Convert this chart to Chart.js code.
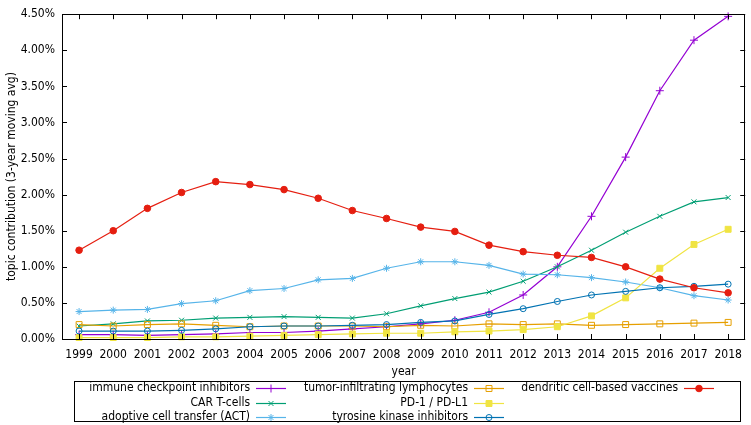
<!DOCTYPE html>
<html>
<head>
<meta charset="utf-8">
<title>Topic contribution</title>
<script src="https://cdn.jsdelivr.net/npm/chart.js@4.4.0/dist/chart.umd.min.js"></script>
<style>
  html, body { margin: 0; padding: 0; background: #fff; }
  #wrap { width: 751px; height: 425px; }
</style>
</head>
<body>
<div id="wrap"><canvas id="chart" width="751" height="425"></canvas></div>
<script>
// Data (percent, 3-year moving average)
const years = ['1999', '2000', '2001', '2002', '2003', '2004', '2005', '2006', '2007', '2008',
  '2009', '2010', '2011', '2012', '2013', '2014', '2015', '2016', '2017', '2018'];

const immuneCheckpoint = [0.06, 0.06, 0.05, 0.06, 0.07, 0.09, 0.09, 0.11, 0.14, 0.17, 0.21, 0.26, 0.37, 0.61, 1.00, 1.70, 2.52, 3.44, 4.14, 4.47];
const carTCells = [0.18, 0.21, 0.25, 0.26, 0.29, 0.30, 0.31, 0.30, 0.29, 0.35, 0.46, 0.56, 0.65, 0.80, 1.00, 1.23, 1.48, 1.70, 1.90, 1.96];
const adoptiveTransfer = [0.38, 0.40, 0.41, 0.49, 0.53, 0.67, 0.70, 0.82, 0.84, 0.98, 1.07, 1.07, 1.02, 0.90, 0.89, 0.85, 0.79, 0.71, 0.60, 0.54];
const tumorInfiltrating = [0.20, 0.18, 0.20, 0.21, 0.19, 0.17, 0.18, 0.18, 0.18, 0.17, 0.19, 0.18, 0.21, 0.20, 0.21, 0.19, 0.20, 0.21, 0.22, 0.23];
const pd1 = [0.02, 0.02, 0.02, 0.03, 0.03, 0.04, 0.05, 0.06, 0.07, 0.08, 0.08, 0.10, 0.11, 0.13, 0.17, 0.32, 0.57, 0.98, 1.31, 1.52];
const tyrosineKinase = [0.11, 0.11, 0.11, 0.12, 0.14, 0.17, 0.18, 0.18, 0.19, 0.20, 0.23, 0.25, 0.34, 0.42, 0.52, 0.61, 0.66, 0.71, 0.73, 0.76];
const dendriticVaccines = [1.23, 1.50, 1.81, 2.03, 2.18, 2.14, 2.07, 1.95, 1.78, 1.67, 1.55, 1.49, 1.30, 1.21, 1.16, 1.13, 1.00, 0.83, 0.71, 0.64];

const seriesNames = [
  'immune checkpoint inhibitors',
  'CAR T-cells',
  'adoptive cell transfer (ACT)',
  'tumor-infiltrating lymphocytes',
  'PD-1 / PD-L1',
  'tyrosine kinase inhibitors',
  'dendritic cell-based vaccines'
];
const seriesValues = [immuneCheckpoint, carTCells, adoptiveTransfer, tumorInfiltrating, pd1, tyrosineKinase, dendriticVaccines];

// gnuplot-like styling
const colors = ['#9400d3', '#009e73', '#56b4e9', '#e69f00', '#f0e442', '#0072b2', '#e51e10'];
const markers = [
  { style: 'cross', radius: 4, fill: false },
  { style: 'crossRot', radius: 3.5, fill: false },
  { style: 'star', radius: 3.5, fill: false },
  { style: 'rect', radius: 4.2, fill: false },
  { style: 'rect', radius: 4.2, fill: true },
  { style: 'circle', radius: 3, fill: false },
  { style: 'circle', radius: 3.3, fill: true }
];

const FONT = { family: "'DejaVu Sans Condensed', 'DejaVu Sans'", size: 12 };
const TICK_LEN = 5;

const datasets = seriesNames.map((name, i) => ({
  label: name,
  data: seriesValues[i],
  borderColor: colors[i],
  backgroundColor: markers[i].fill ? colors[i] : 'rgba(0,0,0,0)',
  pointBorderColor: colors[i],
  pointBackgroundColor: markers[i].fill ? colors[i] : 'rgba(0,0,0,0)',
  pointStyle: markers[i].style,
  pointRadius: markers[i].radius,
  pointBorderWidth: 1,
  borderWidth: 1.2,
  tension: 0,
  fill: false,
  clip: false,
  order: seriesNames.length - i   // later series on top, like gnuplot
}));

// Frame with inward ticks on all four sides
const framePlugin = {
  id: 'frame',
  afterDatasetsDraw(chart) {
    const { ctx, chartArea: a, scales } = chart;
    ctx.save();
    ctx.strokeStyle = '#000';
    ctx.lineWidth = 1;
    ctx.beginPath();
    scales.x.ticks.forEach((t, i) => {
      const px = Math.round(scales.x.getPixelForTick(i)) + 0.5;
      ctx.moveTo(px, a.bottom); ctx.lineTo(px, a.bottom - TICK_LEN);
      ctx.moveTo(px, a.top); ctx.lineTo(px, a.top + TICK_LEN);
    });
    scales.y.ticks.forEach((t, i) => {
      const py = Math.round(scales.y.getPixelForTick(i)) + 0.5;
      ctx.moveTo(a.left, py); ctx.lineTo(a.left + TICK_LEN, py);
      ctx.moveTo(a.right, py); ctx.lineTo(a.right - TICK_LEN, py);
    });
    ctx.stroke();
    ctx.strokeRect(Math.round(a.left) + 0.5, Math.round(a.top) + 0.5,
      Math.round(a.right - a.left) - 1, Math.round(a.bottom - a.top));
    ctx.restore();
  }
};

// Boxed three-column legend below the axis, gnuplot style
const legendCols = [250, 468, 678];   // right edge of text in each column
const legendRows = [388, 403, 417];
const SAMPLE_GAP = 6;
const SAMPLE_LEN = 30;

const boxLegendPlugin = {
  id: 'boxLegend',
  afterDraw(chart) {
    const ctx = chart.ctx;
    ctx.save();
    ctx.strokeStyle = '#000';
    ctx.lineWidth = 1;
    ctx.strokeRect(74.5, 381.5, 666, 40);

    ctx.font = FONT.size + 'px ' + FONT.family;
    ctx.textAlign = 'right';
    ctx.textBaseline = 'middle';
    chart.data.datasets.forEach((ds, i) => {
      const tx = legendCols[Math.floor(i / 3)];
      const ty = legendRows[i % 3];
      ctx.fillStyle = '#000';
      ctx.fillText(ds.label, tx, ty);

      const x1 = tx + SAMPLE_GAP;
      const x2 = x1 + SAMPLE_LEN;
      ctx.strokeStyle = ds.borderColor;
      ctx.lineWidth = ds.borderWidth;
      ctx.beginPath();
      ctx.moveTo(x1, ty + 0.5);
      ctx.lineTo(x2, ty + 0.5);
      ctx.stroke();

      ctx.fillStyle = ds.pointBackgroundColor;
      ctx.lineWidth = 1;
      Chart.helpers.drawPoint(ctx, {
        pointStyle: ds.pointStyle,
        radius: ds.pointRadius,
        rotation: 0,
        borderWidth: 1
      }, (x1 + x2) / 2, ty + 0.5);
    });
    ctx.restore();
  }
};

new Chart(document.getElementById('chart'), {
  type: 'line',
  data: { labels: years, datasets: datasets },
  options: {
    responsive: false,
    animation: false,
    devicePixelRatio: 1,
    events: [],
    layout: { padding: { top: 6, right: 1, left: 0, bottom: 0 } },
    plugins: {
      legend: { display: false },
      tooltip: { enabled: false }
    },
    scales: {
      x: {
        type: 'category',
        offset: true,
        grid: { display: false, drawTicks: false },
        border: { display: false },
        ticks: { color: '#000', font: FONT, padding: 9, maxRotation: 0, autoSkip: false },
        title: {
          display: true,
          text: 'year',
          color: '#000',
          font: FONT,
          padding: { top: 0, bottom: 46 }
        },
        afterFit(scale) { scale.height = 86; }
      },
      y: {
        min: 0,
        max: 4.5,
        grid: { display: false, drawTicks: false },
        border: { display: false },
        ticks: {
          stepSize: 0.5,
          color: '#000',
          font: FONT,
          padding: 7,
          callback: v => v.toFixed(2) + '%'
        },
        title: {
          display: true,
          text: 'topic contribution (3-year moving avg)',
          color: '#000',
          font: FONT,
          padding: { top: 5, bottom: 0 }
        },
        afterFit(scale) { scale.width = 62; }
      }
    }
  },
  plugins: [framePlugin, boxLegendPlugin]
});
</script>
</body>
</html>
